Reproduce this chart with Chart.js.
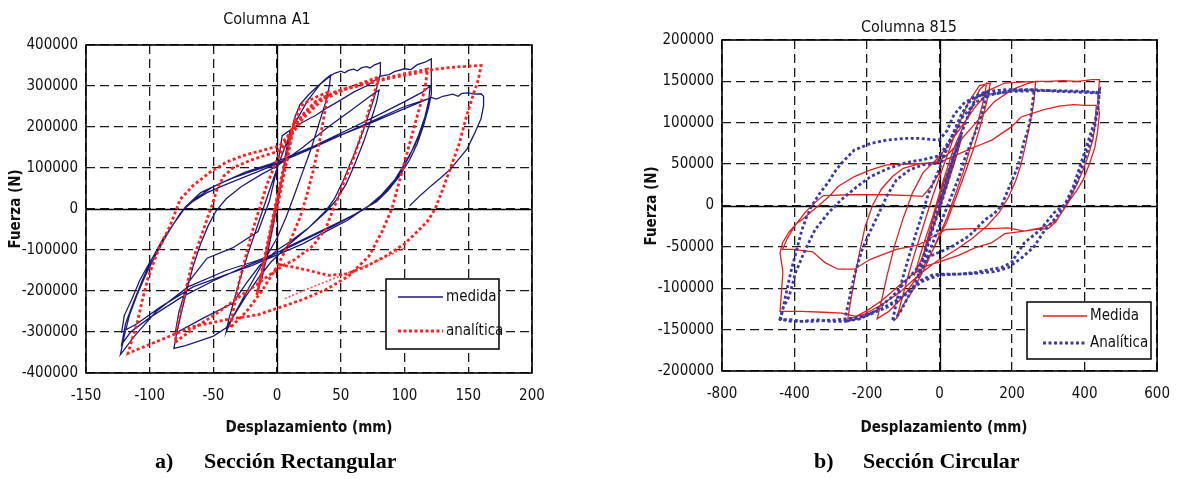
<!DOCTYPE html>
<html lang="es">
<head>
<meta charset="utf-8">
<title>Columnas A1 y 815</title>
<script src="https://cdn.jsdelivr.net/npm/chart.js@4.4.1/dist/chart.umd.min.js"></script>
<style>
  html, body { margin: 0; padding: 0; background: #fff; }
  #figura { position: relative; width: 1184px; height: 479px; overflow: hidden; background: #fff; }
  #figura canvas { position: absolute; top: 0; }
  #cvA { left: 0; }
  #cvB { left: 592px; }
  .pie { position: absolute; top: 448px; font: bold 22px "Liberation Serif", "Times New Roman", serif; line-height: 26px; color: #000; white-space: nowrap; }
</style>
</head>
<body>
<div id="figura">
  <canvas id="cvA" width="592" height="479"></canvas>
  <canvas id="cvB" width="592" height="479"></canvas>
  <div class="pie" style="left:155px">a)</div>
  <div class="pie" style="left:204px">Sección Rectangular</div>
  <div class="pie" style="left:814px">b)</div>
  <div class="pie" style="left:863px">Sección Circular</div>
</div>
<script>
// ---------- Columna A1 (sección rectangular): desplazamiento (mm), fuerza (N) ----------
const a1EtiquetasX = ['-150', '-100', '-50', '0', '50', '100', '150', '200'];
const a1EtiquetasY = ['-400000', '-300000', '-200000', '-100000', '0', '100000', '200000', '300000', '400000'];

const a1MedidaInicio = [[0,0],[3,60000],[7,140000],[10,190000],[7,135000],[2,45000],[-3,-40000],[-8,-115000],[-12,-170000],[-8,-105000],[-2,-15000],[4,80000],[9,160000],[14,225000],[18,255000]];
const a1MedidaCiclo40 = [[25,280000],[32,300000],[38,317000],[42,327000],[41,300000],[38,260000],[33,210000],[27,150000],[20,90000],[13,30000],[7,-20000],[0,-70000],[-10,-125000],[-20,-180000],[-28,-225000],[-35,-265000],[-40,-300000],[-38,-270000],[-34,-225000],[-29,-170000],[-23,-110000],[-17,-55000],[-11,0],[-5,55000],[0,100000],[6,150000],[14,210000],[24,265000],[34,305000],[42,325000]];
const a1MedidaCiclo80a = [[45,331000],[50,336000],[53,332000],[56,338000],[60,341000],[63,337000],[66,344000],[70,347000],[73,344000],[76,351000],[80,356000],[81,357000],[81,330000],[76,270000],[68,195000],[60,130000],[52,70000],[45,25000],[38,-5000],[25,-45000],[10,-85000],[-5,-130000],[-15,-170000],[-25,-215000],[-33,-255000],[-40,-290000],[-50,-310000],[-62,-323000],[-72,-333000],[-81,-340000],[-79,-305000],[-75,-250000],[-71,-200000],[-66,-140000],[-60,-85000],[-54,-40000],[-48,-5000],[-40,25000],[-28,55000],[-12,85000],[0,105000],[20,150000],[40,200000],[60,245000],[75,280000],[80,290000]];
const a1MedidaCiclo80b = [[78,260000],[74,220000],[68,165000],[61,110000],[54,60000],[46,20000],[38,-8000],[25,-45000],[10,-80000],[0,-100000],[-14,-139000],[-24,-180000],[-35,-230000],[-58,-266000],[-80,-303000],[-77,-250000],[-70,-180000],[-55,-120000],[-35,-95000],[-15,-55000],[-6,20000],[0,100000],[4,179000],[16,205000],[30,228000],[40,248000],[51,268000],[60,285000],[70,300000],[82,325000],[88,328000],[92,335000],[100,342000],[105,340000],[110,352000],[116,358000],[121,366000]];
const a1MedidaCiclo120a = [[121,320000],[121,280000],[119,250000],[115,205000],[110,160000],[104,120000],[96,80000],[87,45000],[78,18000],[68,0],[55,-28000],[40,-52000],[20,-85000],[0,-112000],[-20,-138000],[-40,-160000],[-66,-190000],[-92,-240000],[-110,-280000],[-122,-300000],[-120,-260000],[-114,-220000],[-108,-175000],[-100,-130000],[-92,-90000],[-84,-50000],[-76,-10000],[-68,15000],[-55,40000],[-40,60000],[-20,85000],[0,110000],[20,140000],[40,170000],[60,200000],[80,230000],[100,262000],[114,285000],[120,300000]];
const a1MedidaCiclo120b = [[119,265000],[116,225000],[111,180000],[104,130000],[96,85000],[86,45000],[76,15000],[66,-5000],[50,-30000],[30,-60000],[10,-90000],[-5,-115000],[-25,-140000],[-50,-175000],[-75,-215000],[-100,-265000],[-115,-300000],[-122,-330000],[-119,-280000],[-113,-230000],[-106,-175000],[-98,-120000],[-90,-75000],[-81,-35000],[-73,0],[-62,30000],[-50,55000],[-35,75000],[-20,92000],[0,112000],[25,145000],[50,180000],[75,215000],[100,250000],[115,265000],[120,270000]];
const a1MedidaCiclo120c = [[118,240000],[114,200000],[108,155000],[100,110000],[92,70000],[82,35000],[72,8000],[60,-15000],[45,-40000],[25,-70000],[5,-100000],[-15,-125000],[-40,-150000],[-70,-190000],[-95,-250000],[-112,-310000],[-123,-355000],[-120,-310000],[-116,-260000],[-110,-210000],[-103,-160000],[-95,-110000],[-87,-65000],[-79,-25000],[-72,5000],[-60,40000],[-45,62000],[-25,90000],[-5,110000],[15,135000],[40,168000],[70,205000],[100,245000],[118,268000],[121,272000]];
const a1MedidaFinal = [[125,268000],[130,275000],[138,280000],[142,275000],[145,282000],[150,283000],[155,280000],[160,281000],[162,275000],[162,252000],[160,220000],[155,185000],[149,146000],[142,120000],[136,97000],[128,75000],[121,57000],[113,35000],[104,8000]];

const a1AnaliticaInicio = [[0,0],[5,80000],[10,160000],[14,220000],[8,120000],[0,20000],[-6,-70000],[-12,-160000],[-16,-210000],[-10,-120000],[-2,0],[5,100000],[12,200000],[18,250000]];
const a1AnaliticaCiclo40 = [[25,265000],[32,275000],[40,285000],[37,230000],[33,160000],[28,90000],[23,30000],[18,-20000],[10,-80000],[0,-140000],[-12,-200000],[-24,-250000],[-37,-290000],[-34,-240000],[-30,-180000],[-25,-120000],[-20,-60000],[-14,0],[-8,60000],[0,120000],[8,170000],[18,220000],[30,260000],[45,285000],[60,300000],[76,318000],[80,322000]];
const a1AnaliticaCiclo80 = [[76,280000],[71,230000],[66,180000],[60,125000],[53,70000],[47,20000],[44,0],[38,-49000],[28,-90000],[14,-123000],[4,-139000],[-10,-170000],[-30,-215000],[-50,-260000],[-65,-290000],[-80,-325000],[-78,-280000],[-74,-230000],[-70,-175000],[-66,-123000],[-60,-70000],[-55,-25000],[-51,10000],[-47,50000],[-42,80000],[-35,100000],[-20,120000],[0,140000],[10,175000],[20,220000],[35,265000],[55,295000],[80,315000],[100,330000],[118,341000]];
const a1AnaliticaCiclo120 = [[116,293000],[110,228000],[105,171000],[100,114000],[95,57000],[90,0],[82,-57000],[72,-115000],[56,-164000],[38,-197000],[20,-221000],[4,-238000],[-15,-258000],[-40,-270000],[-66,-287000],[-92,-320000],[-117,-352000],[-114,-320000],[-110,-280000],[-106,-225000],[-101,-164000],[-93,-98000],[-84,-41000],[-76,24000],[-66,57000],[-53,89000],[-40,114000],[-27,130000],[-8,146000],[2,154000],[10,185000],[20,230000],[30,262000],[45,285000],[70,305000],[90,320000],[110,332000],[122,340000],[135,345000],[148,348000],[160,350000]];
const a1AnaliticaFinal = [[158,317000],[153,270000],[148,220000],[143,160000],[136,100000],[129,40000],[124,0],[118,-30000],[110,-55000],[100,-85000],[85,-115000],[70,-140000],[55,-158000],[40,-162000],[25,-150000],[10,-140000],[0,-135000]];
const a1AnaliticaRama = [[100,-95000],[80,-125000],[60,-150000],[40,-175000],[20,-200000],[5,-220000]];

// ---------- Columna 815 (sección circular) ----------
const c815EtiquetasX = ['-800', '-400', '-200', '0', '200', '400', '600'];
const c815EtiquetasY = ['-200000', '-150000', '-100000', '-50000', '0', '50000', '100000', '150000', '200000'];

const c815MedidaInicio = [[0,0],[15,20000],[30,40000],[45,60000],[30,38000],[10,10000],[-10,-15000],[-30,-40000],[-45,-60000],[-30,-35000],[-10,-5000],[10,25000],[35,55000],[60,80000],[40,50000],[10,10000],[-20,-30000],[-50,-65000],[-70,-85000],[-50,-55000],[-20,-15000],[10,30000],[40,70000],[70,100000],[90,120000]];
const c815MedidaCiclo130 = [[110,140000],[130,148000],[120,125000],[105,100000],[85,70000],[65,40000],[45,15000],[20,-15000],[-10,-45000],[-40,-75000],[-70,-100000],[-100,-120000],[-119,-137000],[-105,-115000],[-90,-90000],[-70,-60000],[-45,-25000],[-20,10000],[0,35000],[25,65000],[50,95000],[80,125000],[110,145000],[140,148000]];
const c815MedidaCiclo180 = [[130,125000],[115,100000],[95,70000],[75,45000],[50,15000],[20,-20000],[-20,-55000],[-60,-85000],[-100,-110000],[-140,-128000],[-172,-137000],[-160,-115000],[-145,-85000],[-125,-50000],[-100,-15000],[-75,15000],[-45,40000],[-10,55000],[20,70000],[60,95000],[100,120000],[140,140000],[180,148000]];
const c815MedidaCiclo260 = [[220,149000],[265,150000],[260,125000],[250,100000],[238,75000],[225,50000],[210,30000],[190,10000],[165,-8000],[130,-25000],[90,-40000],[40,-55000],[-10,-68000],[-60,-85000],[-110,-105000],[-160,-120000],[-210,-132000],[-253,-137000],[-245,-115000],[-233,-85000],[-220,-55000],[-205,-25000],[-185,0],[-160,20000],[-130,35000],[-100,45000],[-60,50000],[-20,52000],[0,54000],[30,65000],[70,85000],[110,105000],[150,125000],[200,140000],[240,147000],[265,150000]];
const c815MedidaCiclo440a = [[300,150000],[340,151000],[380,150000],[400,151000],[420,152000],[441,152000],[438,135000],[437,123000],[441,111000],[436,90000],[428,70000],[414,51000],[396,31000],[378,18000],[360,7000],[342,-5000],[324,-17000],[300,-24000],[279,-27000],[234,-31000],[180,-34000],[144,-45000],[99,-51000],[54,-60000],[0,-68000],[-36,-73000],[-80,-85000],[-120,-100000],[-160,-115000],[-200,-127000],[-230,-134000],[-270,-130000],[-320,-129000],[-380,-128000],[-440,-128000],[-436,-105000],[-432,-80000],[-440,-57000],[-433,-45000],[-415,-32000],[-395,-22000],[-379,-17000],[-350,-6000],[-325,3000],[-300,13000],[-280,23000],[-235,35000],[-190,43000],[-146,49000],[-100,50000],[-47,51000],[0,52000],[40,60000],[99,71000],[144,79000],[198,95000],[225,107000],[288,116000],[330,120000],[369,122000],[400,121000],[432,121000]];
const c815MedidaCiclo440b = [[430,100000],[423,80000],[410,60000],[395,42000],[378,25000],[360,10000],[342,-5000],[320,-20000],[300,-28000],[261,-29000],[234,-31000],[189,-27000],[140,-28000],[90,-28000],[18,-29000],[-20,-38000],[-60,-48000],[-119,-53000],[-191,-65000],[-235,-77000],[-280,-77000],[-316,-69000],[-350,-56000],[-402,-53000],[-433,-53000],[-420,-40000],[-400,-25000],[-370,-8000],[-340,5000],[-320,12000],[-250,13000],[-146,13000],[-80,12000],[-47,11000],[-20,25000],[0,40000]];

const c815AnaliticaInicio = [[0,0],[20,30000],[40,60000],[60,85000],[40,55000],[10,10000],[-20,-30000],[-40,-60000],[-60,-85000],[-40,-55000],[-10,-10000],[20,35000],[50,75000],[80,110000],[100,130000]];
const c815AnaliticaCiclo130 = [[130,137000],[120,115000],[100,90000],[72,60000],[54,35000],[36,15000],[18,-5000],[-10,-35000],[-40,-70000],[-80,-105000],[-110,-130000],[-130,-140000],[-118,-115000],[-100,-85000],[-80,-55000],[-55,-20000],[-30,15000],[0,45000],[30,80000],[60,110000],[90,130000],[130,138000],[180,140000]];
const c815AnaliticaCiclo260 = [[220,140000],[261,140000],[252,108000],[243,90000],[234,79000],[216,47000],[189,19000],[171,0],[150,-10000],[126,-17000],[81,-37000],[40,-48000],[18,-53000],[-36,-63000],[-80,-85000],[-130,-110000],[-180,-128000],[-220,-137000],[-262,-140000],[-250,-115000],[-235,-85000],[-215,-55000],[-190,-30000],[-170,-12000],[-146,11000],[-119,31000],[-83,43000],[-47,49000],[-11,51000],[10,60000],[30,80000],[60,105000],[100,125000],[144,134000],[200,139000],[261,140000],[324,138000],[380,137000],[432,136000],[441,140000]];
const c815AnaliticaCiclo440a = [[437,120000],[430,105000],[423,95500],[405,71000],[387,47000],[369,23000],[350,5000],[342,0],[315,-9000],[279,-29000],[234,-45000],[198,-69000],[170,-75000],[144,-77000],[99,-81000],[54,-83000],[0,-83000],[-20,-84000],[-50,-90000],[-90,-105000],[-140,-122000],[-200,-133000],[-260,-140000],[-300,-140000],[-340,-138000],[-380,-140000],[-410,-138000],[-438,-138000],[-425,-110000],[-410,-80000],[-395,-55000],[-380,-30000],[-365,-12000],[-352,0],[-330,15000],[-307,28000],[-290,40000],[-271,51000],[-235,67000],[-190,75000],[-146,79000],[-100,81000],[-56,81000],[-2,79000],[20,90000],[40,110000],[70,125000],[110,133000],[200,138000],[300,139000],[400,138000],[441,136000]];
const c815AnaliticaCiclo440b = [[436,115000],[428,95000],[415,75000],[400,55000],[380,30000],[360,10000],[345,0],[320,-15000],[290,-30000],[260,-50000],[230,-62000],[190,-75000],[150,-80000],[100,-82000],[50,-83000],[0,-84000],[-50,-92000],[-100,-110000],[-160,-125000],[-220,-135000],[-280,-138000],[-350,-140000],[-410,-140000],[-440,-137000],[-433,-125000],[-415,-110000],[-397,-81000],[-370,-53000],[-343,-29000],[-307,-9000],[-271,7000],[-230,22000],[-190,35000],[-140,45000],[-90,52000],[-40,56000],[0,60000],[30,80000],[60,100000]];

// ---------- drawing ----------
const FAMILIA = "'Liberation Sans Narrow', 'Arial Narrow', 'DejaVu Sans Condensed', 'Liberation Sans', Arial, sans-serif";
Chart.defaults.font.family = FAMILIA;
Chart.defaults.color = '#111';

const aPuntos = (...tramos) => [].concat(...tramos).map(([x, y]) => ({ x, y }));

// frame, zero axes, title, axis titles and the boxed legend
const decoracion = {
  id: 'decoracion',
  beforeDatasetsDraw(chart) {
    const { ctx, chartArea: a, scales: { x, y } } = chart;
    const x0 = Math.round(x.getPixelForValue(0)) + 0.5;
    const y0 = Math.round(y.getPixelForValue(0)) + 0.5;
    ctx.save();
    ctx.setLineDash([]);
    ctx.strokeStyle = '#000';
    ctx.lineWidth = 1.3;
    ctx.beginPath();
    ctx.moveTo(x0, a.top); ctx.lineTo(x0, a.bottom);
    ctx.moveTo(a.left, y0); ctx.lineTo(a.right, y0);
    ctx.stroke();
    ctx.restore();
  },
  afterDatasetsDraw(chart, args, o) {
    const { ctx, chartArea: a } = chart;
    ctx.save();
    ctx.setLineDash([]);
    ctx.strokeStyle = '#000';
    ctx.lineWidth = 1.6;
    ctx.strokeRect(a.left, a.top, a.right - a.left, a.bottom - a.top);

    // legend box
    const L = o.leyenda;
    ctx.fillStyle = '#fff';
    ctx.fillRect(L.x0, L.y0, L.x1 - L.x0, L.y1 - L.y0);
    ctx.lineWidth = 1.5;
    ctx.strokeRect(L.x0, L.y0, L.x1 - L.x0, L.y1 - L.y0);
    ctx.font = `15px ${FAMILIA}`;
    ctx.textBaseline = 'middle';
    ctx.textAlign = 'left';
    L.items.forEach(it => {
      ctx.save();
      ctx.strokeStyle = it.color;
      ctx.lineWidth = it.ancho;
      ctx.setLineDash(it.trazo);
      ctx.beginPath();
      ctx.moveTo(L.lx0, it.y); ctx.lineTo(L.lx1, it.y);
      ctx.stroke();
      ctx.restore();
      ctx.fillStyle = '#111';
      ctx.fillText(it.texto, L.tx, it.y);
    });

    // titles
    ctx.fillStyle = '#111';
    ctx.textAlign = 'center';
    ctx.font = `16px ${FAMILIA}`;
    ctx.fillText(o.titulo.texto, o.titulo.x, o.titulo.y);
    ctx.font = `bold 15px ${FAMILIA}`;
    ctx.fillText(o.tituloX.texto, o.tituloX.x, o.tituloX.y);
    ctx.save();
    ctx.translate(o.tituloY.x, o.tituloY.y);
    ctx.rotate(-Math.PI / 2);
    ctx.fillText(o.tituloY.texto, 0, 0);
    ctx.restore();
    ctx.restore();
  }
};

function serie(datos, color, ancho, trazo) {
  return {
    data: datos, borderColor: color, backgroundColor: color, borderWidth: ancho,
    borderDash: trazo, showLine: true, pointRadius: 0, pointHoverRadius: 0,
    tension: 0, fill: false, borderCapStyle: 'butt', borderJoinStyle: 'miter'
  };
}

function grafico(lienzo, c) {
  return new Chart(document.getElementById(lienzo), {
    type: 'scatter',
    data: { datasets: c.series },
    plugins: [decoracion],
    options: {
      responsive: false, animation: false, events: [],
      layout: { padding: c.margen },
      plugins: { legend: { display: false }, tooltip: { enabled: false }, decoracion: c.deco },
      scales: {
        x: {
          type: 'linear', min: c.x[0], max: c.x[1],
          afterFit: s => { s.height = 40; },
          ticks: { stepSize: c.x[2], autoSkip: false, maxRotation: 0, padding: c.padX,
                   font: { size: 15 }, color: '#111',
                   callback: (v, i) => c.etX[i] },
          grid: { color: '#1a1a1a', lineWidth: 1.3, drawTicks: false },
          border: { display: false, dash: [9, 5] }
        },
        y: {
          type: 'linear', min: c.y[0], max: c.y[1],
          afterFit: s => { s.width = c.anchoY; },
          ticks: { stepSize: c.y[2], autoSkip: false, padding: c.padY,
                   font: { size: 15 }, color: '#111',
                   callback: (v, i) => c.etY[i] },
          grid: { color: '#1a1a1a', lineWidth: 1.3, drawTicks: false },
          border: { display: false, dash: [9, 5] }
        }
      }
    }
  });
}

const PUNTEADO = [3, 2.5];

grafico('cvA', {
  x: [-150, 200, 50], y: [-400000, 400000, 100000],
  etX: a1EtiquetasX, etY: a1EtiquetasY,
  anchoY: 86, padX: 14, padY: 8,
  margen: { left: 0, right: 60, top: 45, bottom: 66 },
  series: [
    serie(aPuntos(a1AnaliticaInicio, a1AnaliticaCiclo40, a1AnaliticaCiclo80, a1AnaliticaCiclo120, a1AnaliticaFinal), '#ff1f1f', 2.8, PUNTEADO),
    serie(aPuntos(a1AnaliticaRama), '#ff5050', 1.5, [2, 2]),
    serie(aPuntos(a1MedidaInicio, a1MedidaCiclo40, a1MedidaCiclo80a, a1MedidaCiclo80b, a1MedidaCiclo120a, a1MedidaCiclo120b, a1MedidaCiclo120c, a1MedidaFinal), '#1b1b7c', 1.3, [])
  ],
  deco: {
    titulo: { texto: 'Columna A1', x: 267, y: 20 },
    tituloX: { texto: 'Desplazamiento (mm)', x: 309, y: 428 },
    tituloY: { texto: 'Fuerza (N)', x: 16, y: 209 },
    leyenda: {
      x0: 386, y0: 279, x1: 499, y1: 349, lx0: 398, lx1: 443, tx: 446,
      items: [
        { texto: 'medida', y: 297, color: '#1b1b7c', ancho: 1.3, trazo: [] },
        { texto: 'analítica', y: 331, color: '#ff1f1f', ancho: 2.8, trazo: PUNTEADO }
      ]
    }
  }
});

grafico('cvB', {
  x: [-600, 600, 200], y: [-200000, 200000, 50000],
  etX: c815EtiquetasX, etY: c815EtiquetasY,
  anchoY: 130, padX: 14, padY: 8,
  margen: { left: 0, right: 18, top: 40, bottom: 68 },
  series: [
    serie(aPuntos(c815AnaliticaInicio, c815AnaliticaCiclo130, c815AnaliticaCiclo260, c815AnaliticaCiclo440a, c815AnaliticaCiclo440b), '#3b3ba3', 2.8, PUNTEADO),
    serie(aPuntos(c815MedidaInicio, c815MedidaCiclo130, c815MedidaCiclo180, c815MedidaCiclo260, c815MedidaCiclo440a, c815MedidaCiclo440b), '#e3201f', 1.3, [])
  ],
  deco: {
    titulo: { texto: 'Columna 815', x: 317, y: 28 },
    tituloX: { texto: 'Desplazamiento (mm)', x: 352, y: 428 },
    tituloY: { texto: 'Fuerza (N)', x: 60, y: 206 },
    leyenda: {
      x0: 435, y0: 302, x1: 559, y1: 359, lx0: 451, lx1: 495, tx: 498,
      items: [
        { texto: 'Medida', y: 316, color: '#e3201f', ancho: 1.3, trazo: [] },
        { texto: 'Analítica', y: 343, color: '#3b3ba3', ancho: 2.8, trazo: PUNTEADO }
      ]
    }
  }
});
</script>
</body>
</html>
